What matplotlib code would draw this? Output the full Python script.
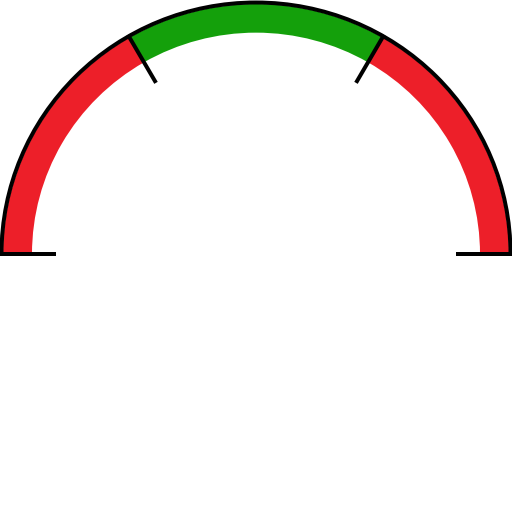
import numpy as np
import matplotlib
matplotlib.use('Agg')
import matplotlib.pyplot as plt
from matplotlib.patches import Wedge, Arc

# gauge bands, as fractions of the dial (0 = left end, 1 = right end)
band_edges = [0.0, 1/3, 2/3, 1.0]
band_colors = ['#ED1F29', '#14A00B', '#ED1F29']

# geometry in pixel units (dial is a little flatter vertically)
sy = 253 / 250
cx, cy = 256, 258 * sy
r_out = 253
r_in = 224
r_tick = 200

def frac_to_deg(f):
    return 180 - 180 * f

fig = plt.figure(figsize=(5.12, 5.12), dpi=100)
ax = fig.add_axes([0, 0, 1, 1])
ax.set_xlim(0, 512)
ax.set_ylim(0, 512 * sy)
ax.axis('off')

for i in range(len(band_colors)):
    a1 = frac_to_deg(band_edges[i + 1])
    a2 = frac_to_deg(band_edges[i])
    ax.add_patch(Wedge((cx, cy), r_out, a1, a2, width=r_out - r_in,
                       facecolor=band_colors[i], edgecolor='none'))

lw = 4 * 72 / 100
ax.add_patch(Arc((cx, cy), 2 * (r_out + 1.5), 2 * (r_out + 1.5), theta1=0, theta2=180,
                 color='black', lw=lw))

for f in band_edges:
    t = np.radians(frac_to_deg(f))
    ax.plot([cx + r_tick * np.cos(t), cx + (r_out + 3) * np.cos(t)],
            [cy + r_tick * np.sin(t), cy + (r_out + 3) * np.sin(t)],
            color='black', lw=lw, solid_capstyle='butt')

fig.savefig('out.png', dpi=100)
